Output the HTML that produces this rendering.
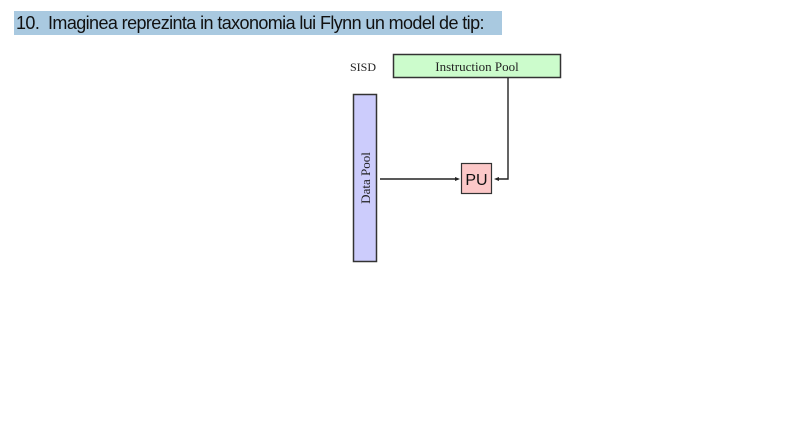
<!DOCTYPE html>
<html><head><style>
body{margin:0;width:800px;height:424px;background:#fff;position:relative;overflow:hidden;font-family:"Liberation Sans",sans-serif}
.t{position:absolute;left:14px;top:11px;width:488px;height:24px;background:#a9c9e0;font-size:18px;line-height:24px;color:#111;white-space:nowrap;letter-spacing:-0.6px;padding-left:2px;box-sizing:border-box}
</style></head><body>
<div class="t">10.&nbsp; Imaginea reprezinta in taxonomia lui Flynn un model de tip:</div>
<svg width="800" height="424" style="position:absolute;left:0;top:0">
<rect x="393.5" y="54.5" width="167" height="23" fill="#ccfccc" stroke="#333" stroke-width="1.5"/>
<text x="477" y="71" font-family="Liberation Serif" font-size="13" text-anchor="middle" fill="#222">Instruction Pool</text>
<text x="350" y="71" font-family="Liberation Serif" font-size="12" fill="#222">SISD</text>
<rect x="353.5" y="94.5" width="23" height="167" fill="#ccccfc" stroke="#333" stroke-width="1.5"/>
<text transform="translate(370,178) rotate(-90)" font-family="Liberation Serif" font-size="13" text-anchor="middle" fill="#222">Data Pool</text>
<rect x="461.5" y="163.5" width="30" height="30" fill="#fcc8c8" stroke="#333" stroke-width="1.2"/>
<text x="476.5" y="185" font-family="Liberation Sans" font-size="16" text-anchor="middle" fill="#111">PU</text>
<line x1="380" y1="179" x2="456" y2="179" stroke="#222" stroke-width="1.4"/>
<polygon points="460,179 455,177 455,181" fill="#222"/>
<polyline points="508,78 508,179 498,179" fill="none" stroke="#222" stroke-width="1.4"/>
<polygon points="494,179 499,177 499,181" fill="#222"/>
</svg>
</body></html>
